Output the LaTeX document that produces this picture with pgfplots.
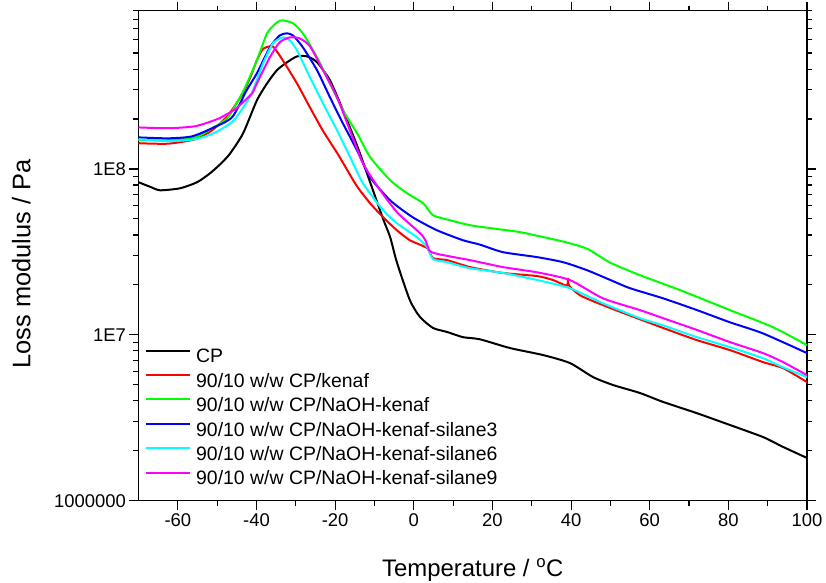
\documentclass[border=0pt]{standalone}
\usepackage{fontspec}
\setmainfont{Liberation Sans}
\usepackage{pgfplots}
\pgfplotsset{compat=1.18}
\definecolor{cR}{RGB}{255,0,0}
\definecolor{cG}{RGB}{0,255,0}
\definecolor{cB}{RGB}{0,0,255}
\definecolor{cC}{RGB}{0,255,255}
\definecolor{cM}{RGB}{255,0,255}
\begin{document}
\begin{tikzpicture}
\begin{axis}[
 scale only axis, width=668.5bp, height=490bp,
 xmin=-70, xmax=100, ymode=log, ymin=1e6, ymax=9e8,
 xtick={-60,-40,...,100}, minor x tick num=1,
 ytick={1e6,1e7,1e8}, yticklabels={1000000,1E7,1E8},
 minor ytick={2e6,3e6,4e6,5e6,6e6,7e6,8e6,9e6,2e7,3e7,4e7,5e7,6e7,7e7,8e7,9e7,2e8,3e8,4e8,5e8,6e8,7e8,8e8,9e8},
 tick align=outside,
 major tick length=9bp, minor tick length=5bp,
 axis line style={line width=1.2pt},
 every tick/.style={line width=1.1pt, black},
 /pgf/number format/assume math mode=true,
 tick label style={font=\fontsize{18.5}{20}\selectfont},
 xlabel={Temperature / \textsuperscript{o}C},
 ylabel={Loss modulus / Pa},
 xlabel style={font=\fontsize{24}{28}\selectfont, inner sep=0pt, at={(axis description cs:0.5,0)}, anchor=base, yshift=-76bp},
 ylabel style={font=\fontsize{25.5}{28}\selectfont, inner sep=0pt, at={(axis description cs:-0.1897,0.483)}, anchor=north},
 legend cell align=left,
 legend image code/.code={\draw[#1, line width=2bp] (0bp,7bp) -- (44bp,7bp);},
 legend style={at={(0.0097,0.3122)}, anchor=north west, draw=none, fill=none,
   font=\fontsize{19.5}{22}\selectfont, inner sep=0pt, row sep=4.9bp, column sep=5bp,
   nodes={inner sep=0pt, text height=15bp, text depth=4.5bp}},
 every axis plot/.append style={line width=2bp, smooth, tension=0.4},
]
\addplot[black] coordinates {(-70,8.32e7)(-67,7.8e7)(-64.5,7.44e7)(-59.4,7.65e7)(-55.1,8.32e7)(-51.8,9.42e7)(-49,1.08e8)(-46.7,1.24e8)(-43.4,1.64e8)(-39.9,2.59e8)(-37.3,3.28e8)(-34.8,3.94e8)(-32.2,4.40e8)(-29.7,4.77e8)(-27.1,4.77e8)(-24.6,4.40e8)(-21.3,3.42e8)(-18.0,2.26e8)(-14.4,1.38e8)(-11.1,8.32e7)(-7.8,5.0e7)(-6.0,3.88e7)(-4.3,2.74e7)(-1.0,1.62e7)(1.6,1.28e7)(4.9,1.10e7)(8.5,1.04e7)(12.5,9.68e6)(16.8,9.4e6)(24.5,8.32e6)(32.9,7.55e6)(39.7,6.76e6)(45.6,5.56e6)(50.7,4.98e6)(57.5,4.46e6)(63.4,3.94e6)(72.0,3.37e6)(80.4,2.86e6)(88.8,2.42e6)(93.9,2.11e6)(100,1.81e6)};
\addlegendentry{CP}
\addplot[cR] coordinates {(-70,1.43e8)(-62.5,1.42e8)(-55.6,1.51e8)(-51.3,1.71e8)(-47.2,2.11e8)(-43.5,2.85e8)(-41.5,3.6e8)(-39.9,4.52e8)(-38.3,5.3e8)(-36.0,5.5e8)(-34.8,5.1e8)(-33.3,4.52e8)(-29.7,3.28e8)(-26.4,2.35e8)(-23.1,1.70e8)(-19.5,1.25e8)(-17.9,1.08e8)(-14.5,7.9e7)(-11.1,6.21e7)(-7.8,5.12e7)(-4.3,4.27e7)(-1.0,3.72e7)(3.4,3.33e7)(4.9,2.90e7)(8.5,2.82e7)(14.3,2.56e7)(22.7,2.36e7)(31.4,2.26e7)(35.4,2.14e7)(38.9,1.98e7)(39.2,2.2e7)(39.5,1.98e7)(42.3,1.73e7)(48.1,1.51e7)(56,1.28e7)(63.4,1.10e7)(72.0,9.29e6)(80.4,8.09e6)(88.8,6.85e6)(93.9,6.3e6)(100,5.19e6)};
\addlegendentry{90/10 w/w CP/kenaf}
\addplot[cG] coordinates {(-70,1.49e8)(-62.5,1.49e8)(-55.6,1.55e8)(-51.3,1.76e8)(-47.2,2.05e8)(-43.2,3.0e8)(-39.9,4.52e8)(-37.3,6.57e8)(-34.8,7.65e8)(-33.3,7.87e8)(-30.7,7.55e8)(-28.2,6.57e8)(-24.6,4.71e8)(-21.3,3.28e8)(-18.0,2.26e8)(-14.4,1.64e8)(-11.1,1.18e8)(-6.0,8.55e7)(-1.7,7.14e7)(2.4,6.21e7)(4.9,5.26e7)(9.2,4.91e7)(14.3,4.58e7)(21,4.35e7)(27.0,4.16e7)(38.0,3.65e7)(44.1,3.3e7)(50.0,2.72e7)(57.5,2.29e7)(67.7,1.86e7)(80.4,1.41e7)(91.4,1.11e7)(100,8.67e6)};
\addlegendentry{90/10 w/w CP/NaOH-kenaf}
\addplot[cB] coordinates {(-70,1.55e8)(-62.5,1.53e8)(-56.5,1.57e8)(-51.3,1.76e8)(-46.2,2.05e8)(-42.5,2.98e8)(-39.9,3.77e8)(-36.6,5.41e8)(-34.1,6.38e8)(-32.3,6.57e8)(-30.7,6.38e8)(-28.2,5.41e8)(-24.6,3.94e8)(-21.3,2.70e8)(-18.0,1.88e8)(-14.4,1.29e8)(-11.1,8.91e7)(-6.0,6.47e7)(-0.3,5.12e7)(5.9,4.27e7)(12.5,3.72e7)(16.8,3.5e7)(22.7,3.15e7)(31.4,2.94e7)(38.0,2.74e7)(44.1,2.45e7)(50.0,2.14e7)(55.0,1.91e7)(63.4,1.66e7)(72.0,1.41e7)(80.4,1.19e7)(88.8,1.02e7)(100,7.76e6)};
\addlegendentry{90/10 w/w CP/NaOH-kenaf-silane3}
\addplot[cC] coordinates {(-70,1.51e8)(-62.5,1.47e8)(-55.6,1.51e8)(-50.5,1.66e8)(-45.8,1.96e8)(-41.4,2.8e8)(-38.3,4.34e8)(-35.8,5.72e8)(-33.3,6.21e8)(-31.5,5.96e8)(-29.7,5.19e8)(-26.4,3.57e8)(-23.1,2.49e8)(-19.5,1.71e8)(-16.2,1.18e8)(-12.9,8.18e7)(-7.8,5.64e7)(-4.3,4.71e7)(0.8,3.88e7)(3.4,3.38e7)(4.9,2.86e7)(8.5,2.74e7)(14.3,2.52e7)(22.7,2.36e7)(31.4,2.14e7)(39.7,1.91e7)(48.1,1.55e7)(57.5,1.26e7)(63.4,1.14e7)(72.0,9.68e6)(80.4,8.43e6)(88.8,7.23e6)(93.9,6.37e6)(100,5.56e6)};
\addlegendentry{90/10 w/w CP/NaOH-kenaf-silane6}
\addplot[cM] coordinates {(-70,1.78e8)(-62.5,1.76e8)(-55.6,1.81e8)(-49.9,2.0e8)(-45.8,2.26e8)(-43.7,2.49e8)(-41.1,2.86e8)(-39.9,3.28e8)(-36.6,4.71e8)(-34.1,5.80e8)(-31.5,6.21e8)(-29.0,6.13e8)(-26.4,5.49e8)(-23.1,3.94e8)(-19.5,2.70e8)(-16.2,1.70e8)(-12.9,1.08e8)(-9.3,7.9e7)(-4.3,5.5e7)(1.6,4.1e7)(3.0,3.7e7)(4.1,3.2e7)(6.7,3.05e7)(14.3,2.82e7)(22.7,2.56e7)(31.4,2.38e7)(39.7,2.14e7)(48.1,1.66e7)(57.5,1.41e7)(63.4,1.26e7)(72.0,1.07e7)(80.4,9.04e6)(88.8,7.76e6)(93.9,6.85e6)(100,5.71e6)};
\addlegendentry{90/10 w/w CP/NaOH-kenaf-silane9}
\end{axis}
\pgfresetboundingbox
\path ([xshift=-138.5bp,yshift=-82.3bp]current axis.south west) rectangle ([xshift=19bp,yshift=10.7bp]current axis.north east);
\end{tikzpicture}
\end{document}
